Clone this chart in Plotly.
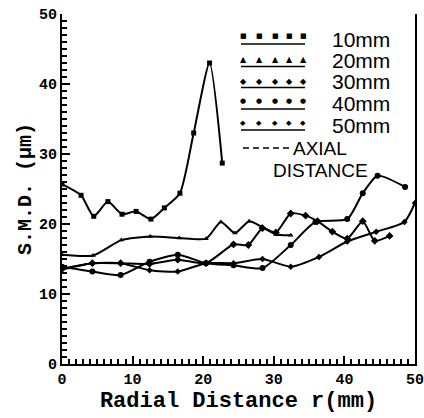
import plotly.graph_objects as go

# ---- data ----
r_10 = [0, 2.7, 4.5, 6.5, 8.5, 10.5, 12.6, 14.5, 16.7, 18.65, 20.9, 22.7]
smd_10 = [25.7, 24.1, 21.1, 23.2, 21.4, 21.8, 20.7, 22.3, 24.4, 33.0, 43.0, 28.7]

r_20 = [0, 4.4, 8.4, 12.5, 16.6, 20.4, 22.5, 24.5, 26.5, 28.3, 30.3, 32.4]
smd_20 = [15.6, 15.5, 17.7, 18.2, 18.0, 17.9, 20.3, 18.7, 20.4, 19.6, 18.5, 18.4]

r_30 = [0, 4.3, 8.3, 12.4, 16.4, 20.4, 24.3, 26.4, 28.4, 30.3, 32.4, 34.5, 36.2, 38.3, 40.4, 42.6, 44.3, 46.4]
smd_30 = [13.6, 14.4, 14.4, 14.3, 14.9, 14.4, 17.1, 17.0, 19.4, 18.8, 21.5, 21.2, 20.4, 18.9, 17.9, 20.4, 17.6, 18.3]

r_40 = [0, 4.3, 8.3, 12.4, 16.4, 20.4, 24.3, 28.4, 32.4, 35.9, 40.4, 42.6, 44.7, 48.6]
smd_40 = [13.9, 13.2, 12.7, 14.6, 15.6, 14.4, 14.1, 13.7, 17.0, 20.3, 20.7, 24.4, 26.9, 25.3]

r_50 = [0, 4.3, 8.3, 12.4, 16.4, 20.4, 24.3, 28.4, 32.4, 36.4, 40.4, 44.5, 48.5, 50]
smd_50 = [13.5, 14.4, 14.4, 13.4, 13.2, 14.4, 14.4, 15.0, 13.9, 15.3, 17.5, 18.9, 20.3, 23.0]

series_names = ["10mm", "20mm", "30mm", "40mm", "50mm"]
axis_range = [0, 50]
tick_step = 10

xs = [r_10, r_20, r_30, r_40, r_50]
ys = [smd_10, smd_20, smd_30, smd_40, smd_50]
symbols = ["square", "triangle-up", "diamond", "circle", "diamond"]
msizes = [5, 5, 6, 6, 5]
glyphs = ["\u25A0", "\u25B2", "\u25C6", "\u25CF", "\u25C6"]
gsizes = [7, 8, 8, 7, 7]

fig = go.Figure()
for x, y, name, sym, ms in zip(xs, ys, series_names, symbols, msizes):
    fig.add_trace(go.Scatter(
        x=x, y=y, name=name, mode="lines+markers",
        line=dict(color="black", width=2, shape="spline", smoothing=0.6),
        marker=dict(symbol=sym, size=ms, color="black"),
        showlegend=False,
    ))

# ---- hand-drawn style legend (layout only) ----
# plot area: x 62..415 px, y 14..364 px
def px2x(px):
    return (px - 62) / 353 * 50

def py2y(py):
    return (364 - py) / 350 * 50

marker_px = [243, 259, 275, 289, 303]
row_marker_py = [35.5, 59.5, 81, 101, 122.5]
row_line_py = [44, 66.5, 87.5, 109, 130]
row_label_py = [39, 60.5, 81.5, 103, 125]

annotations = []
shapes = []
for i, name in enumerate(series_names):
    for mx in marker_px:
        annotations.append(dict(
            x=px2x(mx), y=py2y(row_marker_py[i]), xref="x", yref="y",
            text=glyphs[i], showarrow=False, borderpad=0,
            font=dict(family="DejaVu Sans", size=gsizes[i], color="black"),
        ))
    shapes.append(dict(
        type="line", xref="x", yref="y",
        x0=px2x(241), x1=px2x(305), y0=py2y(row_line_py[i]), y1=py2y(row_line_py[i]),
        line=dict(color="black", width=1.5),
    ))
    annotations.append(dict(
        x=px2x(331), y=py2y(row_label_py[i]), xref="x", yref="y",
        text=name, showarrow=False, xanchor="left", yanchor="middle", borderpad=0,
        font=dict(family="Liberation Sans", size=21, color="black"),
    ))

shapes.append(dict(
    type="line", xref="x", yref="y",
    x0=px2x(243), x1=px2x(292), y0=py2y(148), y1=py2y(148),
    line=dict(color="black", width=1.5, dash="6px,4px"),
))
annotations.append(dict(
    x=px2x(292), y=py2y(148), xref="x", yref="y", text="AXIAL",
    showarrow=False, xanchor="left", yanchor="middle", borderpad=0,
    font=dict(family="Liberation Sans", size=19, color="black"),
))
annotations.append(dict(
    x=px2x(272), y=py2y(170), xref="x", yref="y", text="DISTANCE",
    showarrow=False, xanchor="left", yanchor="middle", borderpad=0,
    font=dict(family="Liberation Sans", size=19, color="black"),
))

axis_font = dict(family="Liberation Mono", size=15, color="black", weight="bold")
xtitle_font = dict(family="Liberation Mono", size=22, color="black", weight="bold")
ytitle_font = dict(family="Liberation Mono", size=20, color="black", weight="bold")

common = dict(
    range=axis_range, tickmode="linear", tick0=0, dtick=tick_step,
    ticks="inside", ticklen=8, tickwidth=2, tickcolor="black",
    showline=True, linewidth=2, linecolor="black",
    showgrid=False, zeroline=False, tickfont=axis_font, automargin=False,
    ticklabeloverflow="allow",
    minor=dict(dtick=1, tick0=0, ticks="inside", ticklen=5, tickwidth=1.5,
               tickcolor="black", showgrid=False),
)

fig.update_layout(
    width=424, height=418,
    margin=dict(l=62, r=9, t=14, b=54),
    paper_bgcolor="white", plot_bgcolor="white",
    annotations=annotations, shapes=shapes,
    xaxis=dict(**common, title=dict(text="Radial Distance r(mm)", font=xtitle_font, standoff=1)),
    yaxis=dict(**common, mirror=True,
               title=dict(text="S.M.D. (\u03bcm)", font=ytitle_font, standoff=2)),
)

# remove the default page margin so the 424x418 figure fills the window exactly
fig.write_html(
    "out.html",
    config={"displayModeBar": False},
    post_script="document.body.style.margin='0';document.body.style.overflow='hidden';",
)
